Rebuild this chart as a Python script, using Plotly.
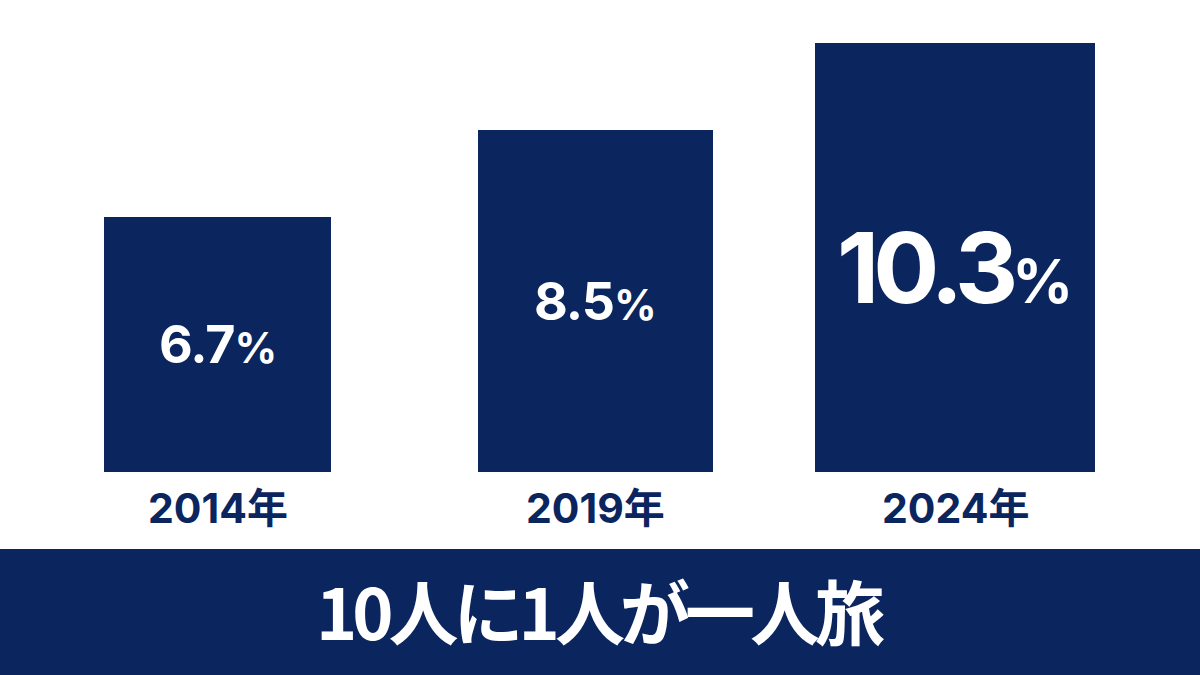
import plotly.graph_objects as go

years = ["2014年", "2019年", "2024年"]
values = [6.7, 8.5, 10.3]
headline = "10人に1人が一人旅"

# layout / style constants
centers = [217.5, 595.5, 955]
widths = [227, 235, 280]
num_sizes = [52, 52, 98]
pct_sizes = [42, 42, 60]
spacing = [-1, -1, -6]
text_shift = [0, 0, -10]
NAVY = "#0B255E"
FONT = "Inter, Noto Sans CJK JP"
CJK = "Noto Sans CJK JP"
BASE = 1.424
YTOP = 11.19

fig = go.Figure()
fig.add_trace(go.Bar(
    x=centers, y=[v - BASE for v in values], base=BASE, width=widths,
    marker=dict(color=NAVY, line=dict(width=0)),
    hoverinfo="skip",
))

for c, v, ns, ps, ls, sh in zip(centers, values, num_sizes, pct_sizes, spacing, text_shift):
    fig.add_annotation(
        x=c, y=(v + BASE) / 2, xref="x", yref="y", showarrow=False,
        text=(f"<span style='letter-spacing:{ls}px'><b>{v:.1f}</b></span>"
              f"<span style='font-size:{ps}px'><b>%</b></span>"),
        font=dict(family=FONT, size=ns, color="white"), yshift=sh,
    )

for c, yr in zip(centers, years):
    fig.add_annotation(
        x=c, y=BASE, xref="x", yref="y", showarrow=False, yanchor="middle",
        yshift=-36, text=f"<b>{yr}</b>",
        font=dict(family=FONT, size=41, color=NAVY),
    )

fig.add_shape(type="rect", xref="paper", yref="paper", ysizemode="pixel",
              yanchor=0, x0=0, x1=1, y0=-77, y1=-215,
              fillcolor=NAVY, line=dict(width=0), layer="below")
fig.add_annotation(x=0.5, y=0, xref="paper", yref="paper", showarrow=False,
                   yanchor="middle", yshift=-137,
                   text=f"<span style='letter-spacing:-5px'><b>{headline}</b></span>",
                   font=dict(family=CJK, size=70, color="white"))

fig.update_layout(
    width=1200, height=675,
    margin=dict(l=0, r=0, t=0, b=203),
    paper_bgcolor="white", plot_bgcolor="white",
    showlegend=False,
    xaxis=dict(range=[0, 1200], visible=False, fixedrange=True),
    yaxis=dict(range=[BASE, YTOP], visible=False, fixedrange=True),
    bargap=0,
)

fig.write_html("out.html", config={"displayModeBar": False},
               post_script="document.body.style.margin='0';document.body.style.overflow='hidden';")
